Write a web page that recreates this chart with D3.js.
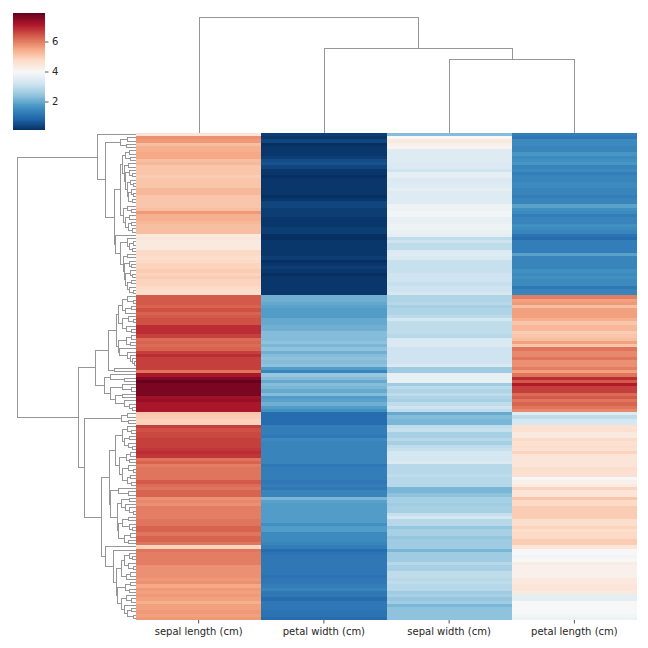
<!DOCTYPE html>
<html><head><meta charset="utf-8">
<script src="https://cdn.jsdelivr.net/npm/d3@7/dist/d3.min.js"></script>
<style>html,body{margin:0;padding:0;background:#fff}svg{display:block}text{font-family:"DejaVu Sans";fill:#262626}</style>
</head><body><svg id="c" width="648" height="648"></svg>
<script>
const columns = ["sepal length (cm)","petal width (cm)","sepal width (cm)","petal length (cm)"];
const colorTicks = [2,4,6];
const colorDomain = [0.1,7.9];
const rdBuStops = ["#053061","#2166ac","#4393c3","#92c5de","#d1e5f0","#f7f7f7","#fddbc7","#f4a582","#d6604d","#b2182b","#67001f"];

const sepalLength = [
4.5,5.8,5.7,5.2,5.4,5.4,5.5,5.5,5.2,5.3,
5.1,5.1,5.1,5.0,5.1,5.1,5.1,5.3,5.3,5.1,
5.1,5.1,5.1,5.2,5.7,5.4,5.4,5.3,5.2,5.2,
5.2,4.4,4.5,4.4,4.4,4.4,4.8,4.8,4.7,4.8,
4.9,4.9,5.0,4.9,5.0,4.9,4.9,4.8,4.7,4.7,
6.4,6.4,6.4,6.3,6.5,6.3,6.4,6.5,6.5,6.9,
6.9,6.9,6.7,6.2,6.3,6.2,6.3,6.7,6.9,6.7,
6.7,6.7,6.7,6.1,7.2,7.6,7.9,7.7,7.7,7.7,
7.7,7.3,7.4,7.2,7.2,7.2,5.1,5.0,4.9,4.9,
6.7,6.5,6.6,6.6,6.7,6.7,6.7,6.8,6.9,6.8,
6.1,6.3,6.0,6.1,6.1,6.1,6.1,6.4,6.2,6.1,
6.3,6.3,5.8,5.9,5.8,6.0,6.0,6.0,6.0,6.1,
6.1,6.3,6.3,6.1,6.3,6.3,6.1,4.9,6.1,6.0,
6.0,6.0,6.0,5.8,5.8,5.8,5.8,5.7,5.8,5.5,
5.7,5.6,5.7,5.6,5.4,5.6,5.6,5.7,5.6,5.7];
const petalWidth = [
.3,.2,.4,.1,.2,.2,.2,.3,.5,.6,
.4,.2,.2,.1,.2,.2,.2,.2,.2,.1,
.2,.4,.4,.3,.3,.3,.2,.2,.2,.3,
.3,.1,.1,.2,.2,.2,.2,.2,.3,.1,
.2,.3,.2,.1,.2,.2,.2,.2,.2,.2,
2.1,2.1,2.0,1.9,1.8,1.8,1.8,2.0,2.0,2.1,
2.1,2.3,2.3,2.3,2.4,2.2,2.4,2.1,2.3,2.4,
2.3,2.4,1.8,1.4,2.5,2.3,2.0,2.3,2.2,2.0,
2.3,1.8,1.9,2.1,1.8,1.6,1.0,1.0,1.0,1.0,
1.3,1.3,1.3,1.2,1.5,1.4,1.4,1.4,1.4,1.4,
1.4,1.4,1.2,1.3,1.3,1.3,1.3,1.2,1.3,1.2,
1.4,1.4,2.2,1.9,1.8,1.8,1.8,1.8,1.8,1.8,
1.6,1.8,1.8,1.5,1.5,1.5,1.4,1.3,1.0,1.1,
1.2,1.2,1.2,1.2,1.2,1.2,1.1,1.2,1.2,1.3,
1.4,1.2,1.2,1.0,1.2,1.2,1.2,1.1,1.1,1.0];
const sepalWidth = [
2.3,4.0,4.4,4.2,4.1,3.5,3.5,3.5,3.5,3.4,
3.4,3.2,3.6,3.6,3.4,3.5,3.5,3.6,3.5,3.5,
3.5,3.5,3.8,3.8,3.9,3.9,3.7,3.7,3.8,3.8,
3.7,3.6,3.0,3.2,3.0,3.0,3.4,3.5,3.4,3.1,
3.1,3.1,3.1,3.2,3.2,3.2,3.1,3.2,3.2,3.3,
2.8,2.8,2.9,2.7,2.8,2.8,2.95,3.3,3.0,3.0,
3.0,3.0,2.9,3.4,3.4,3.4,3.2,3.2,3.2,3.2,
3.2,3.4,2.6,2.6,3.7,3.7,3.7,2.6,2.95,2.8,
3.0,2.8,2.7,3.0,3.2,3.0,2.0,2.3,2.2,2.2,
3.0,3.1,2.7,2.7,2.9,2.7,3.0,3.1,3.3,3.3,
3.3,3.4,2.9,2.9,2.9,3.0,2.9,2.9,2.9,2.2,
2.2,2.4,2.7,2.7,2.6,2.7,2.7,3.1,3.3,2.9,
2.9,2.5,2.7,2.7,2.5,2.6,2.6,2.6,2.2,2.6,
2.6,2.6,2.9,2.7,2.7,3.0,3.0,2.9,3.0,2.9,
2.9,2.6,2.7,2.5,2.6,2.2,2.4,2.4,2.4,2.4];
const petalLength = [
1.3,1.2,1.5,1.5,1.4,1.4,1.7,1.5,1.6,1.7,
1.4,1.5,1.3,1.4,1.4,1.5,1.5,1.4,1.4,1.3,
1.4,1.4,1.9,1.6,1.5,1.3,1.4,1.4,1.6,1.5,
1.4,1.1,1.0,1.3,1.3,1.3,1.3,1.9,1.4,1.4,
1.4,1.4,1.6,1.5,1.6,1.5,1.5,1.2,1.4,1.4,
6.0,5.6,5.7,5.2,5.6,5.6,5.6,5.4,5.1,5.3,
5.3,5.0,5.1,5.2,5.6,5.1,6.1,5.9,5.9,6.1,
5.8,5.8,6.0,5.6,6.1,6.9,6.4,7.1,6.7,6.7,
6.2,6.4,6.1,6.3,6.1,5.9,3.5,3.0,3.3,3.3,
4.6,4.6,4.4,4.4,4.8,4.6,4.7,4.6,4.9,4.5,
4.5,4.5,4.5,4.7,4.6,4.6,4.0,4.2,4.3,4.9,
4.5,4.5,5.1,4.8,4.8,5.0,5.0,5.0,5.0,4.7,
4.7,4.9,4.7,4.8,4.8,5.0,5.0,4.5,4.0,4.0,
3.9,4.0,4.3,4.2,4.2,4.2,4.2,4.4,4.4,4.5,
4.5,4.4,3.6,3.6,4.0,4.0,4.0,4.0,3.9,3.8];
const seriesValues = [sepalLength,petalWidth,sepalWidth,petalLength];

// Linkages: [merge height, child, child]; 0 is a leaf. Heights in arbitrary distance units.
const setosaD1 = [13.7,[11,[7,0,0],[5.5,0,0]],[12,[8,0,0],[11,[7,0,[4,0,0]],[9,[6,0,[3,0,0]],[7.5,[5,0,[2.5,0,0]],[4,0,0]]]]]];
const setosaD2 = [13,[9,0,[5,0,0]],[11,[7,0,0],[8,[5,0,0],[4,0,0]]]];
const setosaF = [16,[8.7,0,[7,[3,0,0],[4,0,0]]],[12.7,[8.7,0,0],[12,[7,0,[4.5,0,0]],[11,[6,0,[3.5,0,0]],[9,[5,0,0],[7,0,[3,0,0]]]]]]];
const setosa = [38.7,0,[30.7,[16,[9,0,0],[10,0,0]],[21.7,[15.7,setosaD1,setosaD2],[20.7,0,setosaF]]]];
const upperQ = [19.3,
  [18,[13.3,[8.7,0,[3,0,0]],[11,[5,0,0],0]],[13.3,[8,0,[3,0,0]],[10,0,[5,0,0]]]],
  [17.7,[9.3,[5,0,0],[6,0,0]],[17,0,[8.7,0,[6,0,[4,0,[2,0,0]]]]]]];
const upperR = [31.7,[25.7,0,[11.7,0,0]],[25.7,[13.3,0,[5,0,0]],[20.7,[14,0,0],[12,0,[7,0,[4,0,0]]]]]];
const upper = [40.7,[27.3,upperQ,[21.7,0,0]],upperR];
const lowerT1 = [26.7,
  [20.3,[14,[9,0,[5,0,0]],[12,[7,0,0],[8,0,[4,0,0]]]],[16.7,[10,[6,0,0],[7,0,0]],[14,[8,0,[3,0,0]],[9,[6,0,0],[5,0,0]]]]],
  [25.7,[17.7,0,[7.7,0,0]],[18.7,[14.3,[7,0,0],[11,0,[7,0,[3,0,0]]]],[17.7,[14,[8,0,0],[7,0,[4,0,0]]],[12,[6,0,0],[8,0,0]]]]]];
const lowerT2 = [30.7,0,[22.7,0,[19.7,
  [14.3,[12,[7,0,[4,0,0]],[8,0,[3,0,0]]],[10,[6,0,0],0]],
  [19,[11,[6,0,0],[7,0,0]],[15,[10,0,[5,0,0]],[12,0,[9,[5,0,0],[3,0,0]]]]]]]];
const lower = [51.7,[14.3,[9,0,0],[8,0,0]],[34.7,lowerT1,lowerT2]];
const rowLinkage = [118.7,setosa,[57.7,upper,lower]];
const colLinkage = [115.5,0,[84.5,0,[73.5,0,0]]];

const nRows = sepalLength.length;
const svg = d3.select("#c");
const heatL=136,heatR=637,heatT=133,heatB=620,lineColor="#969696";

const color = d3.scaleLinear()
  .domain(rdBuStops.map((_,i)=>colorDomain[0]+i/10*(colorDomain[1]-colorDomain[0])))
  .range(rdBuStops).interpolate(d3.interpolateRgb);

const xBand = d3.scaleBand().domain(columns).range([heatL,heatR]);
const yBand = d3.scaleBand().domain(d3.range(nRows)).range([heatT,heatB]);

const defs = svg.append("defs");
defs.append("clipPath").attr("id","heatClip").append("rect").attr("x",heatL).attr("y",heatT).attr("width",heatR-heatL).attr("height",heatB-heatT);
defs.append("clipPath").attr("id","barClip").append("rect").attr("x",13).attr("y",13).attr("width",32).attr("height",117);

// heatmap
const g = svg.append("g").attr("shape-rendering","crispEdges").attr("clip-path","url(#heatClip)");
columns.forEach((c,j)=>{
  g.selectAll(null).data(seriesValues[j]).join("rect")
    .attr("x",xBand(c)).attr("width",xBand.bandwidth()+0.5)
    .attr("y",(d,i)=>yBand(i)).attr("height",yBand.bandwidth()+0.5)
    .attr("fill",d=>color(d));
});

// x axis
const xAxis = svg.append("g").attr("transform",`translate(0,${heatB})`)
  .call(d3.axisBottom(xBand).tickSize(3.5).tickPadding(4.5));
xAxis.select(".domain").remove();
xAxis.selectAll("line").attr("stroke","#262626").attr("stroke-width",0.8);
xAxis.selectAll("text").style("font-size","10px").style("font-family","DejaVu Sans").attr("fill","#262626");

// dendrograms
function layout(node,next){
  if(node===0){return {pos:next(),h:0};}
  const a=layout(node[1],next), b=layout(node[2],next);
  return {pos:(a.pos+b.pos)/2,h:node[0],a,b};
}
function collect(n,out){ if(n.a){out.push(n);collect(n.a,out);collect(n.b,out);} return out; }

// row dendrogram
let ri=0;
const rowRoot = layout(rowLinkage,()=>yBand(ri++)+yBand.bandwidth()/2);
if(ri!==nRows) throw new Error("leaf count "+ri);
const rowH = d3.scaleLinear().domain([0,rowLinkage[0]]).range([heatL,17.5]);
svg.append("g").attr("shape-rendering","crispEdges").selectAll("path").data(collect(rowRoot,[])).join("path")
  .attr("fill","none").attr("stroke",lineColor).attr("stroke-width",1)
  .attr("d",n=>{const p=d3.path();p.moveTo(rowH(n.a.h),n.a.pos);p.lineTo(rowH(n.h),n.a.pos);p.lineTo(rowH(n.h),n.b.pos);p.lineTo(rowH(n.b.h),n.b.pos);return p.toString();});

// column dendrogram
let ci=0;
const colRoot = layout(colLinkage,()=>xBand(columns[ci++])+xBand.bandwidth()/2+0.6);
const colH = d3.scaleLinear().domain([0,colLinkage[0]]).range([heatT,heatT-colLinkage[0]]);
svg.append("g").attr("shape-rendering","crispEdges").selectAll("path").data(collect(colRoot,[])).join("path")
  .attr("fill","none").attr("stroke",lineColor).attr("stroke-width",1)
  .attr("d",n=>{const p=d3.path();p.moveTo(n.a.pos,colH(n.a.h));p.lineTo(n.a.pos,colH(n.h));p.lineTo(n.b.pos,colH(n.h));p.lineTo(n.b.pos,colH(n.b.h));return p.toString();});

// colour bar
const cbY = d3.scaleLinear().domain(colorDomain).range([130,13]);
const cbVals = d3.range(0,256).map(i=>colorDomain[0]+i/255*(colorDomain[1]-colorDomain[0]));
svg.append("g").attr("shape-rendering","crispEdges").attr("clip-path","url(#barClip)").selectAll("rect").data(cbVals).join("rect")
  .attr("x",13).attr("width",32)
  .attr("y",d=>cbY(d)-0.6).attr("height",1.2)
  .attr("fill",d=>color(d));
const cbAxis = svg.append("g").attr("transform","translate(45,0)")
  .call(d3.axisRight(cbY).tickValues(colorTicks).tickSize(3.5).tickPadding(3.5));
cbAxis.select(".domain").remove();
cbAxis.selectAll("line").attr("stroke","#262626").attr("stroke-width",0.8);
cbAxis.selectAll("text").style("font-size","10px").style("font-family","DejaVu Sans").attr("fill","#262626");
</script></body></html>
